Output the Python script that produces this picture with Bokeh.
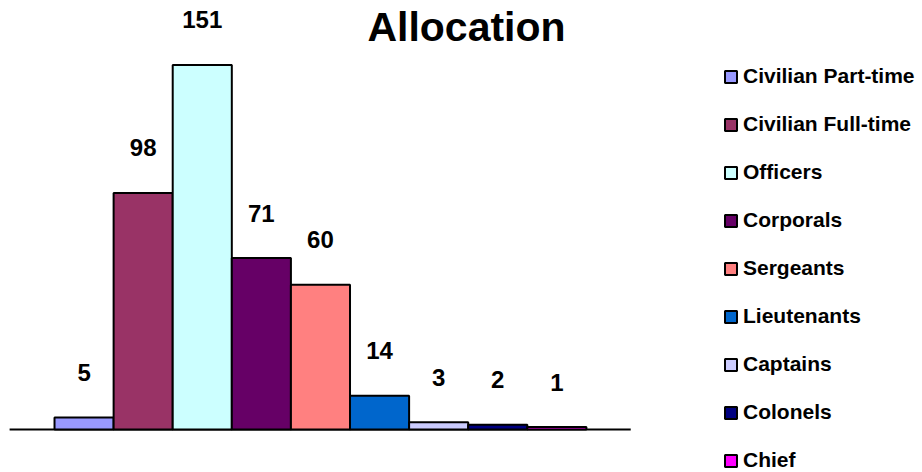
from bokeh.plotting import figure
from bokeh.models import ColumnDataSource, LabelSet, Label, Legend, LegendItem, Range1d
from bokeh.core.properties import value
from bokeh.embed import file_html
from bokeh.resources import INLINE

categories = ["Civilian Part-time", "Civilian Full-time", "Officers", "Corporals",
              "Sergeants", "Lieutenants", "Captains", "Colonels", "Chief"]
values = [5, 98, 151, 71, 60, 14, 3, 2, 1]
colors = ["#9999FF", "#993366", "#CCFFFF", "#660066", "#FF8080",
          "#0066CC", "#CCCCFF", "#000080", "#FF00FF"]

FONT = "Liberation Sans"

src = ColumnDataSource(dict(
    x=list(range(len(categories))),
    top=values,
    color=colors,
    cat=categories,
    lbl=[str(v) for v in values],
))

W, H = 922, 472
p = figure(width=W, height=H, output_backend="svg", toolbar_location=None,
           x_range=Range1d(-1.414, 14.187), y_range=Range1d(-17.81, 177.7),
           min_border=0, outline_line_color=None)
p.axis.visible = False
p.grid.visible = False
p.background_fill_color = "white"
p.border_fill_color = "white"

n = len(categories)
# baseline (category axis line), padded 1.25 category widths past the outer bars
p.segment(x0=[-1.26], x1=[n - 1 + 1.25], y0=[0], y1=[0], line_color="black", line_width=2)

r = p.vbar(x="x", top="top", bottom=0, width=1.0, fill_color="color",
           line_color="black", line_width=2, source=src)

labels = LabelSet(x="x", y="top", text="lbl", source=src, y_offset=45,
                  text_align="center", text_baseline="middle",
                  text_font=value(FONT), text_font_style="bold", text_font_size="24px",
                  text_color="black")
p.add_layout(labels)

title = Label(x=466, y=446, x_units="screen", y_units="screen", text="Allocation",
              text_align="center", text_baseline="alphabetic",
              text_font=FONT, text_font_style="bold", text_font_size="41px",
              text_color="black")
p.add_layout(title)

items = [LegendItem(label=c, renderers=[r], index=i) for i, c in enumerate(categories)]
legend = Legend(items=items, location=(723, 0), orientation="vertical",
                glyph_width=15, glyph_height=15, label_height=24, spacing=24,
                label_standoff=5, padding=0, margin=0,
                border_line_color=None, background_fill_alpha=0,
                label_text_font=FONT, label_text_font_style="bold",
                label_text_font_size="21px", label_text_color="black")
p.add_layout(legend)

open("out.html", "w").write(file_html(p, INLINE))
